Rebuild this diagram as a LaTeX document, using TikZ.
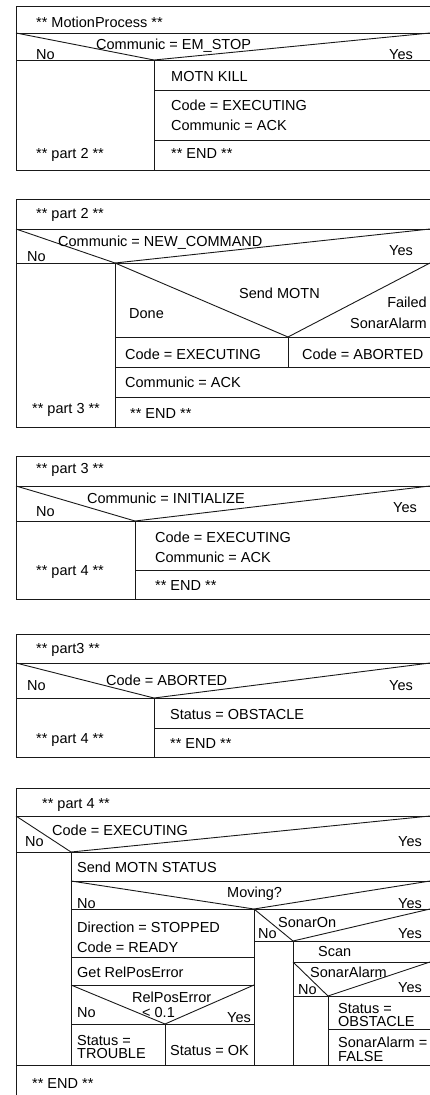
\documentclass[tikz,border=0pt]{standalone}
\usepackage{fontspec}
\setmainfont{Liberation Sans}
\begin{document}
\begin{tikzpicture}[x=1pt,y=-1pt,
  ln/.style={line width=0.9pt, draw=black!90, line join=miter},
  t/.style={anchor=west, inner sep=0pt, font=\fontsize{14.5}{19}\selectfont, text height=10.4pt, text depth=0pt},
  tr/.style={t, anchor=east},
  ml/.style={anchor=north west, inner sep=0pt, align=left, font=\fontsize{14.5}{19.5}\selectfont},
  mlt/.style={ml, font=\fontsize{14.5}{13.5}\selectfont},
  mlr/.style={anchor=north east, inner sep=0pt, align=right, font=\fontsize{14.5}{21}\selectfont}]
\useasboundingbox (0,0) rectangle (430,1095);

% ---------- Diagram 1 ----------
\draw[ln] (430,6) -- (16,6) -- (16,170) -- (430,170);
\draw[ln] (16,33) -- (430,33);
\draw[ln] (16,60) -- (430,60);
\draw[ln] (16,33) -- (154,60) -- (430,33);
\draw[ln] (154,60) -- (154,170);
\draw[ln] (154,90) -- (430,90);
\draw[ln] (154,140) -- (430,140);
\node[t] (a1) at (36,22) {** MotionProcess **};
\node[t] (a2) at (96,44) {Communic = EM\_STOP};
\node[t] (a3) at (36,54) {No};
\node[tr] (a4) at (413,54) {Yes};
\node[t] (a5) at (171,76) {MOTN KILL};
\node[ml] (a6) at (171,99.8) {Code = EXECUTING\\Communic = ACK};
\node[t] (a7) at (171,153) {** END **};
\node[t] (a8) at (36,153) {** part 2 **};

% ---------- Diagram 2 ----------
\draw[ln] (430,199) -- (16,199) -- (16,427) -- (430,427);
\draw[ln] (16,229) -- (430,229);
\draw[ln] (16,263) -- (430,263);
\draw[ln] (16,229) -- (115,263) -- (430,229);
\draw[ln] (115,263) -- (115,427);
\draw[ln] (115,263) -- (288,337) -- (430,263);
\draw[ln] (115,337) -- (430,337);
\draw[ln] (288,337) -- (288,367);
\draw[ln] (115,367) -- (430,367);
\draw[ln] (115,397) -- (430,397);
\node[t] (b1) at (36,213) {** part 2 **};
\node[t] (b2) at (58,241) {Communic = NEW\_COMMAND};
\node[t] (b3) at (27,256) {No};
\node[tr] (b4) at (413,250) {Yes};
\node[t] (b5) at (239,293) {Send MOTN};
\node[t] (b6) at (129,313) {Done};
\node[mlr] (b7) at (427,296.8) {Failed\\SonarAlarm};
\node[t] (b8) at (125,354) {Code = EXECUTING};
\node[t] (b9) at (302,354) {Code = ABORTED};
\node[t] (b10) at (125,382) {Communic = ACK};
\node[t] (b11) at (130,413) {** END **};
\node[t] (b12) at (32,408) {** part 3 **};

% ---------- Diagram 3 ----------
\draw[ln] (430,456) -- (16,456) -- (16,599) -- (430,599);
\draw[ln] (16,486) -- (430,486);
\draw[ln] (16,521) -- (430,521);
\draw[ln] (16,486) -- (135,521) -- (430,486);
\draw[ln] (135,521) -- (135,599);
\draw[ln] (135,570) -- (430,570);
\node[t] (c1) at (36,468) {** part 3 **};
\node[t] (c2) at (87,498) {Communic = INITIALIZE};
\node[t] (c3) at (36,511) {No};
\node[tr] (c4) at (417,507) {Yes};
\node[ml] (c5) at (155,531.8) {Code = EXECUTING\\Communic = ACK};
\node[t] (c6) at (155,585) {** END **};
\node[t] (c7) at (36,570) {** part 4 **};

% ---------- Diagram 4 ----------
\draw[ln] (430,634) -- (16,634) -- (16,757) -- (430,757);
\draw[ln] (16,663) -- (430,663);
\draw[ln] (16,698) -- (430,698);
\draw[ln] (16,663) -- (154,698) -- (430,663);
\draw[ln] (154,698) -- (154,757);
\draw[ln] (154,728) -- (430,728);
\node[t] (d1) at (36,648) {** part3 **};
\node[t] (d2) at (106,680) {Code = ABORTED};
\node[t] (d3) at (27,685) {No};
\node[tr] (d4) at (413,685) {Yes};
\node[t] (d5) at (170,714) {Status = OBSTACLE};
\node[t] (d6) at (170,743) {** END **};
\node[t] (d7) at (36,738) {** part 4 **};

% ---------- Diagram 5 ----------
\draw[ln] (430,788) -- (16,788) -- (16,1096);
\draw[ln] (16,816) -- (430,816);
\draw[ln] (16,852) -- (430,852);
\draw[ln] (16,816) -- (71,852) -- (430,816);
\draw[ln] (71,852) -- (71,1065);
\draw[ln] (71,881) -- (430,881);
\draw[ln] (71,881) -- (254,909) -- (430,881);
\draw[ln] (71,909) -- (430,909);
\draw[ln] (254,909) -- (254,1065);
% left branch
\draw[ln] (71,957) -- (254,957);
\draw[ln] (71,985) -- (254,985);
\draw[ln] (71,985) -- (165,1024) -- (254,985);
\draw[ln] (71,1024) -- (254,1024);
\draw[ln] (165,1024) -- (165,1065);
% right branch
\draw[ln] (254,909) -- (293,941) -- (430,909);
\draw[ln] (254,941) -- (430,941);
\draw[ln] (293,941) -- (293,1065);
\draw[ln] (293,962) -- (430,962);
\draw[ln] (293,962) -- (328,996) -- (430,962);
\draw[ln] (293,996) -- (430,996);
\draw[ln] (328,996) -- (328,1065);
\draw[ln] (328,1029) -- (430,1029);
\draw[ln] (16,1065) -- (430,1065);

\node[t] (e1) at (42,803) {** part 4 **};
\node[t] (e2) at (52,830) {Code = EXECUTING};
\node[t] (e3) at (25,841) {No};
\node[tr] (e4) at (422,841) {Yes};
\node[t] (e5) at (77,867) {Send MOTN STATUS};
\node[t] (e6) at (227,892) {Moving?};
\node[t] (e7) at (77,903) {No};
\node[tr] (e8) at (422,903) {Yes};
\node[ml] (e9) at (77,921.8) {Direction = STOPPED\\Code = READY};
\node[t] (e10) at (77,972) {Get RelPosError};
\node[t] (e11) at (132,997) {RelPosError};
\node[t] (e12) at (142,1012) {< 0.1};
\node[t] (e13) at (77,1012) {No};
\node[t] (e14) at (227,1017) {Yes};
\node[mlt] (e15) at (77,1034.8) {Status =\\TROUBLE};
\node[t] (e16) at (170,1050) {Status = OK};
\node[t] (e17) at (278,922) {SonarOn};
\node[t] (e18) at (258,933) {No};
\node[tr] (e19) at (422,933) {Yes};
\node[t] (e20) at (318,951) {Scan};
\node[t] (e21) at (310,972) {SonarAlarm};
\node[t] (e22) at (298,989) {No};
\node[tr] (e23) at (422,987) {Yes};
\node[mlt] (e24) at (338,1002.8) {Status =\\OBSTACLE};
\node[mlt] (e25) at (338,1036.8) {SonarAlarm =\\FALSE};
\node[t] (e26) at (32,1083) {** END **};
\end{tikzpicture}
\end{document}
